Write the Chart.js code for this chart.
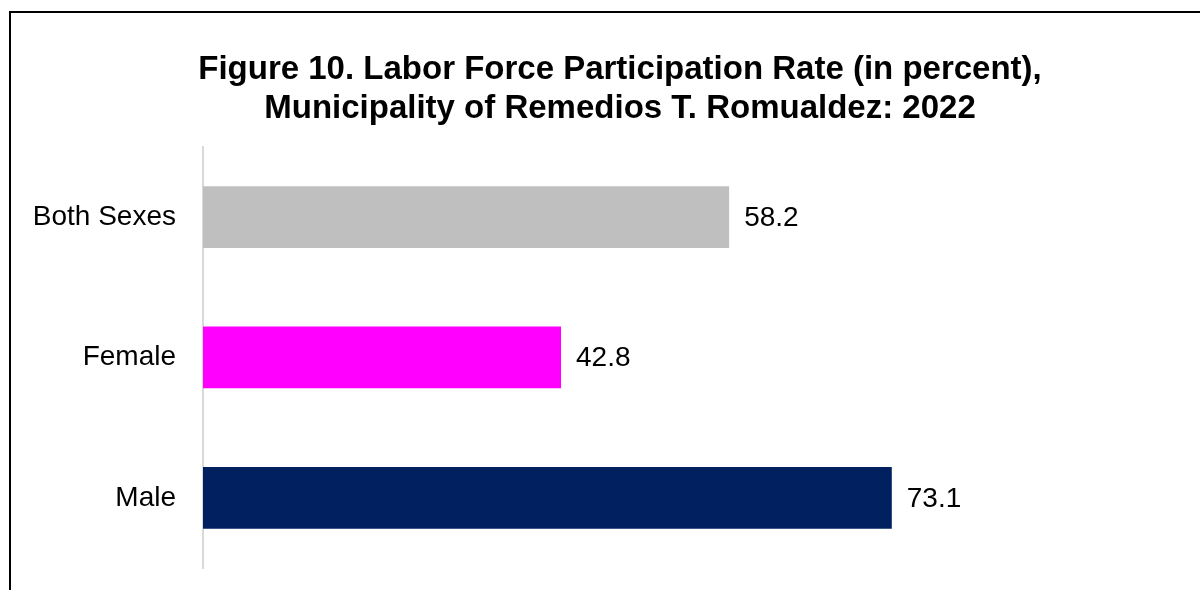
<!DOCTYPE html>
<html>
<head>
<meta charset="utf-8">
<script src="https://cdn.jsdelivr.net/npm/chart.js@4/dist/chart.umd.min.js"></script>
<style>
  html, body { margin: 0; padding: 0; background: #fff; overflow: hidden; }
  #frame {
    position: absolute; left: 9px; top: 11px;
    width: 1300px; height: 700px;
    border: 2px solid #000;
  }
  #laborChart { position: absolute; left: 0; top: 0; }
</style>
</head>
<body>
<div id="frame"></div>
<canvas id="laborChart" width="1240" height="590"></canvas>
<script>
const categories = ["Both Sexes", "Female", "Male"];
const rates = [58.2, 42.8, 73.1];
const barColors = ["#BFBFBF", "#FF00FF", "#002060"];
const titleLines = [
  "Figure 10. Labor Force Participation Rate (in percent),",
  "Municipality of Remedios T. Romualdez: 2022"
];

// values printed to the right of each bar
const barValueLabels = {
  id: 'barValueLabels',
  afterDatasetsDraw(chart) {
    const ctx = chart.ctx;
    const meta = chart.getDatasetMeta(0);
    ctx.save();
    ctx.font = '28px "Liberation Sans", Arial, sans-serif';
    ctx.fillStyle = '#000';
    ctx.textAlign = 'left';
    ctx.textBaseline = 'middle';
    meta.data.forEach((bar, i) => {
      ctx.fillText(rates[i].toFixed(1), bar.x + 15, bar.y + 1);
    });
    ctx.restore();
  }
};

document.addEventListener("DOMContentLoaded", function () {
  const ctx = document.getElementById("laborChart").getContext('2d');

  new Chart(ctx, {
    type: 'bar',
    data: {
      labels: categories,
      datasets: [{
        data: rates,
        backgroundColor: barColors,
        borderWidth: 0,
        categoryPercentage: 1,
        barPercentage: 0.44
      }]
    },
    plugins: [barValueLabels],
    options: {
      indexAxis: 'y',
      responsive: false,
      animation: false,
      layout: {
        padding: { left: 0, right: 0, top: 0, bottom: 22 }
      },
      plugins: {
        legend: { display: false },
        tooltip: { enabled: false },
        title: {
          display: true,
          text: titleLines,
          color: '#000',
          font: { family: '"Liberation Sans", Arial, sans-serif', size: 33, weight: 'bold', lineHeight: 1.18 },
          padding: { top: 50, bottom: 19 }
        }
      },
      scales: {
        x: {
          display: false,
          min: 10,
          max: 105
        },
        y: {
          afterFit(scale) {
            scale.width = 203;
            scale.paddingTop = 0;
            scale.paddingBottom = 0;
          },
          grid: { display: false, drawTicks: false },
          border: { display: true, color: '#D9D9D9', width: 2 },
          ticks: {
            color: '#000',
            padding: 27,
            font: { family: '"Liberation Sans", Arial, sans-serif', size: 28 }
          }
        }
      }
    }
  });
});
</script>
</body>
</html>
